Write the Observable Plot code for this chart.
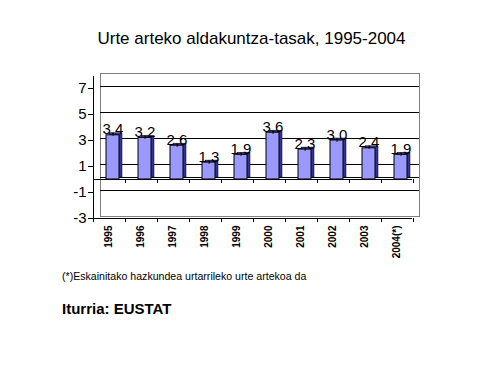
<!DOCTYPE html>
<html>
<head>
<meta charset="utf-8">
<script src="https://cdn.jsdelivr.net/npm/d3@7"></script>
<script src="https://cdn.jsdelivr.net/npm/@observablehq/plot@0.6"></script>
<style>
  html, body { margin: 0; padding: 0; background: #fff; }
  #wrap { position: relative; width: 487px; height: 387px; overflow: hidden; font-family: "Liberation Sans", Arial, sans-serif; color: #000; }
  #wrap svg { position: absolute; left: 0; top: 0; }
  .txt { position: absolute; white-space: nowrap; line-height: 1; }
</style>
</head>
<body>
<div id="wrap">
  <div class="txt" id="title" style="left:0; width:503px; text-align:center; top:30px; font-size:17px;">Urte arteko aldakuntza-tasak, 1995-2004</div>
  <div class="txt" id="note" style="left:62px; top:271px; font-size:10.6px;">(*)Eskainitako hazkundea urtarrileko urte artekoa da</div>
  <div class="txt" id="source" style="left:62px; top:301px; font-size:15px; font-weight:bold;">Iturria: EUSTAT</div>
</div>
<script>
const years = ["1995", "1996", "1997", "1998", "1999", "2000", "2001", "2002", "2003", "2004(*)"];
const rates = [3.4, 3.2, 2.6, 1.3, 1.9, 3.6, 2.3, 3.0, 2.4, 1.9];
const yTicks = [-3, -1, 1, 3, 5, 7];
const gridValues = [7, 5, 3, 1, -1];

const data = years.map((year, i) => ({year, rate: rates[i]}));
const fmt = (v) => v.toFixed(1).replace(".", ",");

const chart = Plot.plot({
  width: 487,
  height: 387,
  marginLeft: 93,
  marginRight: 74,
  marginTop: 73,
  marginBottom: 171,
  style: {fontFamily: "'Liberation Sans', Arial, sans-serif", background: "transparent", color: "#000"},
  x: {type: "band", domain: years, padding: 0, axis: null},
  y: {domain: [-3, 7], range: [218, 88], axis: null},
  marks: [
    // back wall
    Plot.frame({stroke: "#808080", fill: "white", insetLeft: 7, insetRight: -6}),
    // back-wall gridlines
    Plot.ruleY(gridValues, {dy: -2, insetLeft: 7, insetRight: -6, stroke: "#000"}),
    // floor at zero (back and front edges)
    Plot.ruleY([0], {dy: -2, insetLeft: 7, insetRight: -6, stroke: "#000"}),
    Plot.ruleY([0], {insetRight: 1, stroke: "#000"}),
    // bottom category axis line
    Plot.ruleY([-3], {insetRight: 1, stroke: "#000"}),
    // left value axis line
    Plot.frame({anchor: "left", insetTop: 3, insetBottom: -2, stroke: "#000"}),
    // boundary ticks on floor and bottom axis
    Plot.ruleX(years, {x: (d) => d, y1: 0, y2: 0, insetBottom: -4, dx: -16, stroke: "#000"}),
    Plot.ruleX(years.slice(-1), {x: (d) => d, y1: 0, y2: 0, insetBottom: -4, dx: 16, stroke: "#000"}),
    Plot.ruleX(years, {x: (d) => d, y1: -3, y2: -3, insetBottom: -4, dx: -16, stroke: "#000"}),
    Plot.ruleX(years.slice(-1), {x: (d) => d, y1: -3, y2: -3, insetBottom: -4, dx: 16, stroke: "#000"}),
    // bar depth (side/top faces)
    Plot.barY(data, {x: "year", y: "rate", insetLeft: 16, insetRight: 3, dy: -2, fill: "#333399", stroke: "#000", strokeWidth: 0.5}),
    // bar front faces
    Plot.barY(data, {x: "year", y: "rate", insetLeft: 13, insetRight: 6, fill: "#9999ff", stroke: "#000", strokeWidth: 1}),
    // value labels
    Plot.text(data, {x: "year", y: "rate", text: (d) => fmt(d.rate), dx: 3.5, dy: -1, lineAnchor: "bottom", fontSize: 15, fill: "#000"}),
    // axes
    Plot.axisY({ticks: yTicks, tickSize: 5, tickPadding: 2, fontSize: 15, label: null, tickFormat: (d) => String(d).replace("−", "-")}),
    Plot.axisX({tickRotate: -90, tickSize: 0, tickPadding: 9, fontSize: 10, fontWeight: "bold", label: null, dx: -1})
  ]
});
document.getElementById("wrap").prepend(chart);
</script>
</body>
</html>
